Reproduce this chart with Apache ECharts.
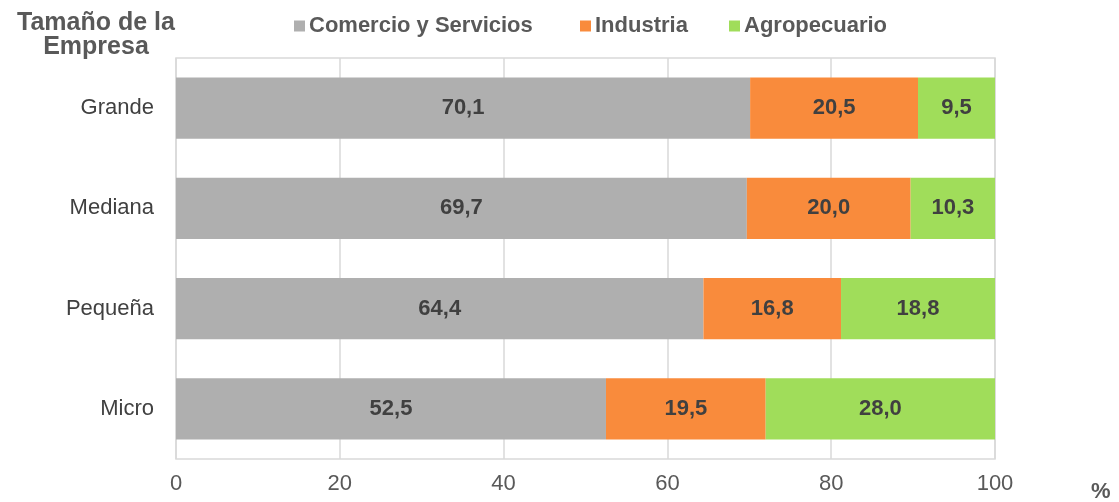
<!DOCTYPE html>
<html>
<head>
<meta charset="utf-8">
<script src="https://cdn.jsdelivr.net/npm/echarts@6/dist/echarts.min.js"></script>
<style>
  html, body { margin: 0; padding: 0; background: #fff; }
  #chart { width: 1119px; height: 502px; }
</style>
</head>
<body>
<div id="chart"></div>
<script>
// datos
const categorias = ['Grande', 'Mediana', 'Pequeña', 'Micro'];
const comercio = [70.1, 69.7, 64.4, 52.5];
const industria = [20.5, 20.0, 16.8, 19.5];
const agro = [9.5, 10.3, 18.8, 28.0];
const ticksX = [0, 20, 40, 60, 80, 100];

const FONT = '"Liberation Sans", Arial, sans-serif';
const chart = echarts.init(document.getElementById('chart'));

const etiqueta = {
  show: true,
  position: 'inside',
  fontFamily: FONT,
  fontSize: 22,
  fontWeight: 'bold',
  color: '#404040',
  formatter: p => p.value.toFixed(1).replace('.', ',')
};

function leyenda(nombre, left) {
  return {
    data: [nombre],
    left: left,
    top: 15,
    padding: 0,
    icon: 'rect',
    itemWidth: 11,
    itemHeight: 11,
    textStyle: { fontFamily: FONT, fontSize: 22, fontWeight: 'bold', color: '#595959', padding: [0, 0, 0, -1] }
  };
}

const option = {
  animation: false,
  legend: [
    leyenda('Comercio y Servicios', 294),
    leyenda('Industria', 580),
    leyenda('Agropecuario', 729)
  ],
  grid: {
    left: 176, right: 124, top: 58, bottom: 43,
    show: true, borderColor: '#d9d9d9', borderWidth: 1.5
  },
  xAxis: {
    type: 'value',
    min: ticksX[0],
    max: ticksX[ticksX.length - 1],
    interval: 20,
    axisLine: { show: false },
    axisTick: { show: false },
    splitLine: { lineStyle: { color: '#d9d9d9', width: 1.5 } },
    axisLabel: { fontFamily: FONT, fontSize: 22, color: '#595959', margin: 14 }
  },
  yAxis: {
    type: 'category',
    data: categorias,
    inverse: true,
    axisLine: { show: false },
    axisTick: { show: false },
    axisLabel: { fontFamily: FONT, fontSize: 22, color: '#404040', margin: 22 }
  },
  series: [
    { name: 'Comercio y Servicios', type: 'bar', stack: 't', data: comercio, barWidth: '61%', itemStyle: { color: '#afafaf' }, label: etiqueta },
    { name: 'Industria', type: 'bar', stack: 't', data: industria, itemStyle: { color: '#f98b3c' }, label: etiqueta },
    { name: 'Agropecuario', type: 'bar', stack: 't', data: agro, itemStyle: { color: '#a0dd5a' }, label: etiqueta }
  ],
  graphic: [
    {
      type: 'text', x: 96, y: 11,
      style: {
        text: 'Tamaño de la\nEmpresa', align: 'center',
        fontFamily: FONT, fontSize: 25, fontWeight: 'bold', fill: '#595959', lineHeight: 24
      }
    },
    {
      type: 'text', x: 1091, y: 481,
      style: { text: '%', fontFamily: FONT, fontSize: 22, fontWeight: 'bold', fill: '#595959' }
    }
  ]
};

chart.setOption(option);
</script>
</body>
</html>
